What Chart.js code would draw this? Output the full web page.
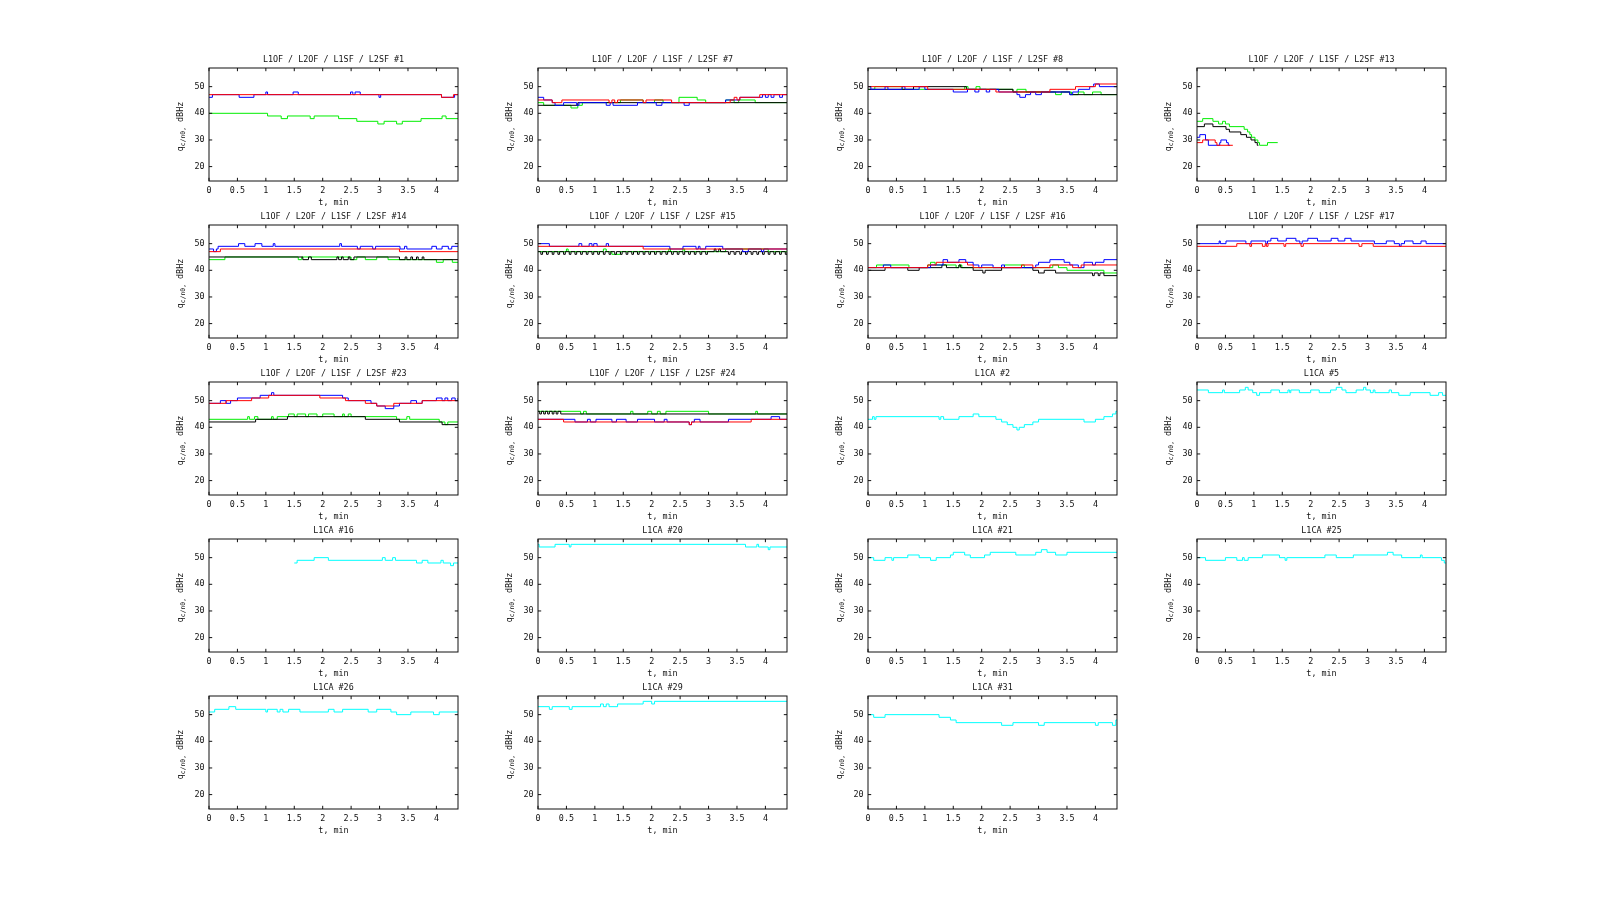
<!DOCTYPE html>
<html><head><meta charset="utf-8">
<script src="https://cdn.jsdelivr.net/npm/chart.js@4.4.0/dist/chart.umd.min.js"></script>
<style>
html,body{margin:0;padding:0;background:#fff;width:1600px;height:908px;overflow:hidden;}
.cell{position:absolute;}
.cell canvas{display:block;}
</style></head><body>
<script>
// ---------- axes ----------
const xTicks = [0,0.5,1,1.5,2,2.5,3,3.5,4];
const xTickLabels = ['0','0.5','1','1.5','2','2.5','3','3.5','4'];
const yTicks = [20,30,40,50];
const yTickLabels = ['20','30','40','50'];
const xMin = 0, xMax = 4.38, yMin = 14.6, yMax = 57;
const xLabel = 't, min';

// ---------- data: [t (min), q (dBHz)] change points ----------
// #1
const s1_L1OF = [[0,47],[4.09,46],[4.3,47],[4.4,47]];
const s1_L2OF = [[0,40],[1.03,39],[1.27,38],[1.38,39],[1.78,38],[1.85,39],[2.28,38],[2.6,37],[2.97,36],[3.08,37],[3.3,36],[3.4,37],[3.73,38],[4.1,39],[4.17,38],[4.4,38]];
const s1_L1SF = [[0,46],[0.06,47],[0.53,46],[0.79,47],[1.0,48],[1.03,47],[1.48,48],[1.57,47],[2.49,48],[2.53,47],[2.57,48],[2.66,47],[2.99,46],[3.02,47],[4.09,46],[4.32,47],[4.4,47]];
// #7
const s7_L1OF = [[0,45],[0.25,44],[0.42,45],[1.25,44],[1.3,45],[1.35,44],[1.4,45],[1.85,44],[1.9,45],[2.35,44],[3.38,45],[3.45,46],[3.5,45],[3.55,46],[3.9,47],[4.4,47]];
const s7_L2OF = [[0,44],[0.1,43],[0.58,42],[0.7,43],[0.78,44],[1.45,45],[1.85,44],[2.05,45],[2.2,44],[2.48,46],[2.8,45],[2.95,44],[3.3,45],[3.45,44],[3.53,45],[3.82,44],[4.4,44]];
const s7_L1SF = [[0,46],[0.1,45],[0.25,44],[0.3,43],[0.45,44],[0.68,43],[0.72,44],[1.2,43],[1.27,44],[1.32,43],[1.75,44],[2.08,43],[2.18,44],[2.57,43],[2.66,44],[3.3,45],[3.55,46],[3.95,47],[4.0,46],[4.05,47],[4.1,46],[4.15,47],[4.25,46],[4.3,47],[4.4,47]];
const s7_L2SF = [[0,43],[0.7,44],[4.4,44]];
// #8
const s8_L1OF = [[0,50],[1.05,49],[2.25,48],[3.2,49],[3.65,50],[4.0,51],[4.4,51]];
const s8_L2OF = [[0,49],[0.12,50],[0.6,49],[1.7,50],[1.76,49],[1.9,50],[1.97,49],[2.55,48],[2.62,49],[2.78,48],[3.3,47],[3.4,48],[3.58,47],[3.7,48],[3.8,47],[3.95,48],[4.1,47],[4.4,47]];
const s8_L1SF = [[0,50],[0.05,49],[0.3,50],[0.35,49],[0.6,50],[0.65,49],[0.9,50],[1.0,49],[1.5,48],[1.75,49],[1.88,48],[1.95,49],[2.08,48],[2.14,49],[2.3,48],[2.62,47],[2.67,46],[2.77,47],[2.86,48],[2.95,47],[3.05,48],[3.55,47],[3.6,48],[3.7,49],[3.9,50],[3.97,51],[4.07,50],[4.4,50]];
const s8_L2SF = [[0,49],[0.8,50],[1.73,49],[2.55,48],[3.55,47],[4.4,47]];
// #13
const s13_L1OF = [[0,29],[0.1,30],[0.32,29],[0.35,28],[0.63,28]];
const s13_L2OF = [[0,37],[0.1,38],[0.28,37],[0.38,36],[0.45,37],[0.5,36],[0.57,35],[0.83,34],[0.89,33],[0.93,32],[0.96,31],[1.02,30],[1.07,29],[1.1,28],[1.24,29],[1.42,29]];
const s13_L1SF = [[0,31],[0.05,32],[0.15,30],[0.2,28],[0.4,29],[0.42,30],[0.52,29],[0.55,28],[0.58,28]];
const s13_L2SF = [[0,35],[0.13,36],[0.28,35],[0.51,34],[0.57,33],[0.77,32],[0.87,31],[0.95,30],[1.02,29],[1.06,28],[1.08,28]];
// #14
const s14_L1OF = [[0,47],[0.2,48],[3.35,47],[4.4,47]];
const s14_L2OF = [[0,44],[0.28,45],[1.57,44],[1.63,45],[2.5,44],[2.6,45],[2.75,44],[2.95,45],[3.15,44],[4.0,43],[4.12,44],[4.28,43],[4.4,43]];
const s14_L1SF = [[0,48],[0.08,47],[0.13,48],[0.16,49],[0.52,50],[0.63,49],[0.81,50],[0.93,49],[1.13,50],[1.16,49],[2.3,50],[2.33,49],[2.61,48],[2.66,49],[2.88,48],[2.93,49],[3.36,48],[3.44,49],[3.48,48],[3.92,49],[4.0,48],[4.1,49],[4.21,48],[4.27,49],[4.4,49]];
const s14_L2SF = [[0,45],[1.65,44],[1.75,45],[1.8,44],[2.25,45],[2.28,44],[2.33,45],[2.36,44],[2.45,45],[2.48,44],[2.55,45],[3.35,44],[3.45,45],[3.48,44],[3.55,45],[3.58,44],[3.65,45],[3.68,44],[3.75,45],[3.78,44],[4.4,44]];
// #15
const s15_L1OF = [[0,49],[1.85,48],[4.4,48]];
const s15_L2OF = [[0,47],[0.5,48],[0.53,47],[1.15,48],[1.2,47],[1.3,46],[1.45,47],[2.3,48],[2.33,47],[2.55,48],[2.58,47],[3.3,48],[4.05,47],[4.4,47]];
const s15_L1SF = [[0,50],[0.2,49],[0.72,50],[0.77,49],[0.9,50],[0.95,49],[0.98,50],[1.04,49],[1.2,50],[1.24,49],[2.32,48],[2.55,49],[2.78,48],[2.82,49],[2.85,48],[2.95,49],[3.25,48],[3.6,47],[3.7,48],[3.93,47],[3.97,48],[4.4,48]];
const s15_L2SF = [[0,47],[0.05,46],[0.08,47],[0.15,46],[0.18,47],[0.25,46],[0.28,47],[0.35,46],[0.38,47],[0.45,46],[0.48,47],[0.55,46],[0.58,47],[0.65,46],[0.68,47],[0.75,46],[0.78,47],[0.85,46],[0.88,47],[0.95,46],[0.98,47],[1.05,46],[1.08,47],[1.15,46],[1.18,47],[1.25,46],[1.28,47],[1.35,46],[1.38,47],[1.45,46],[1.48,47],[1.55,46],[1.58,47],[1.65,46],[1.68,47],[1.75,46],[1.78,47],[1.85,46],[1.88,47],[1.95,46],[1.98,47],[2.05,46],[2.08,47],[2.15,46],[2.18,47],[2.25,46],[2.28,47],[2.35,46],[2.38,47],[2.45,46],[2.48,47],[2.55,46],[2.58,47],[2.65,46],[2.68,47],[2.75,46],[2.78,47],[2.85,46],[2.88,47],[2.95,46],[2.98,47],[3.1,48],[3.13,47],[3.18,48],[3.21,47],[3.35,46],[3.38,47],[3.45,46],[3.48,47],[3.55,46],[3.58,47],[3.65,46],[3.68,47],[3.75,46],[3.78,47],[3.85,46],[3.88,47],[3.95,46],[3.98,47],[4.05,46],[4.08,47],[4.15,46],[4.18,47],[4.25,46],[4.28,47],[4.35,46],[4.38,47],[4.4,47]];
// #16
const s16_L1OF = [[0,41],[1.05,42],[1.2,43],[1.75,42],[1.85,41],[2.7,42],[2.9,41],[3.2,42],[3.6,41],[3.75,42],[4.4,42]];
const s16_L2OF = [[0,41],[0.15,42],[0.72,41],[1.05,42],[1.1,43],[1.18,42],[1.55,41],[1.6,42],[1.65,41],[2.4,42],[2.75,41],[3.25,42],[3.35,41],[3.5,40],[4.15,39],[4.4,39]];
const s16_L1SF = [[0,41],[0.27,42],[0.4,41],[1.1,42],[1.32,44],[1.4,43],[1.6,44],[1.72,43],[1.85,42],[1.95,41],[2.0,42],[2.2,41],[2.35,42],[2.4,41],[2.95,42],[3.0,43],[3.2,44],[3.45,43],[3.55,42],[3.7,41],[3.8,43],[3.95,42],[4.0,43],[4.15,44],[4.4,44]];
const s16_L2SF = [[0,40],[0.3,41],[0.7,40],[0.9,41],[1.3,42],[1.38,41],[1.6,42],[1.63,41],[1.85,40],[2.02,39],[2.06,40],[2.35,41],[2.9,40],[3.0,39],[3.1,40],[3.3,39],[3.95,38],[3.98,39],[4.05,38],[4.08,39],[4.15,38],[4.4,38]];
// #17
const s17_L1OF = [[0,49],[0.7,50],[0.93,49],[0.96,50],[1.15,49],[1.2,50],[1.22,49],[1.25,50],[1.53,49],[1.56,50],[1.83,49],[1.87,50],[2.85,49],[2.9,50],[3.1,49],[4.4,49]];
const s17_L1SF = [[0,50],[0.39,51],[0.41,50],[0.51,51],[0.86,50],[0.95,51],[1.21,50],[1.24,51],[1.3,52],[1.42,51],[1.57,52],[1.74,51],[1.81,50],[1.85,51],[1.95,52],[2.12,51],[2.36,52],[2.48,51],[2.6,52],[2.71,51],[3.12,50],[3.33,51],[3.47,50],[3.56,49],[3.59,50],[3.65,51],[3.8,50],[3.94,51],[4.03,50],[4.4,50]];
// #23
const s23_L1OF = [[0,49],[0.3,50],[0.75,51],[1.05,52],[1.95,51],[2.4,50],[2.75,49],[2.95,48],[3.25,49],[3.75,50],[4.4,50]];
const s23_L2OF = [[0,43],[0.68,44],[0.71,43],[0.8,44],[0.86,43],[1.1,44],[1.13,43],[1.2,44],[1.4,45],[1.5,44],[1.55,45],[1.7,44],[1.75,45],[1.9,44],[2.0,45],[2.2,44],[2.35,45],[2.38,44],[2.45,45],[2.5,44],[3.3,43],[3.48,44],[3.53,43],[4.05,42],[4.15,41],[4.2,42],[4.4,42]];
const s23_L1SF = [[0,49],[0.2,50],[0.3,49],[0.38,50],[0.5,51],[0.9,52],[1.1,53],[1.14,52],[2.35,51],[2.45,50],[2.85,49],[2.95,48],[3.1,47],[3.25,48],[3.35,49],[3.55,50],[3.65,49],[3.75,50],[4.0,51],[4.1,50],[4.15,51],[4.2,50],[4.27,51],[4.33,50],[4.38,51],[4.4,51]];
const s23_L2SF = [[0,42],[0.82,43],[1.38,44],[2.75,43],[3.35,42],[4.1,41],[4.4,41]];
// #24
const s24_L1OF = [[0,43],[0.45,42],[2.66,41],[2.7,42],[3.75,43],[4.4,43]];
const s24_L2OF = [[0,46],[0.75,45],[0.8,46],[0.85,45],[1.63,46],[1.67,45],[1.93,46],[2.0,45],[2.1,46],[2.15,45],[2.25,46],[3.0,45],[3.83,46],[3.86,45],[4.4,45]];
const s24_L1SF = [[0,43],[0.65,42],[0.87,43],[0.92,42],[1.02,43],[1.3,42],[1.38,43],[1.55,42],[1.75,43],[2.05,42],[2.22,43],[2.27,42],[2.66,41],[2.7,42],[2.75,43],[2.85,42],[3.35,43],[4.1,44],[4.25,43],[4.4,43]];
const s24_L2SF = [[0,46],[0.03,45],[0.06,46],[0.1,45],[0.13,46],[0.17,45],[0.2,46],[0.25,45],[0.28,46],[0.32,45],[0.35,46],[0.4,45],[4.4,45]];
// L1CA
const ca2  = [[0,43],[0.08,44],[0.11,43],[0.14,44],[1.25,43],[1.28,44],[1.33,43],[1.6,44],[1.85,45],[1.95,44],[2.25,43],[2.35,42],[2.45,41],[2.55,40],[2.62,39],[2.66,40],[2.75,41],[2.9,42],[3.0,43],[3.8,42],[4.0,43],[4.15,44],[4.3,45],[4.36,46],[4.4,46]];
const ca5  = [[0,54],[0.2,53],[0.45,54],[0.48,53],[0.75,54],[0.85,55],[0.9,54],[0.98,53],[1.05,52],[1.1,53],[1.3,54],[1.45,53],[1.6,54],[1.63,53],[1.65,54],[1.8,53],[2.0,54],[2.15,53],[2.35,54],[2.45,55],[2.55,54],[2.62,53],[2.8,54],[2.93,55],[2.97,54],[3.05,53],[3.1,54],[3.13,53],[3.38,54],[3.42,53],[3.55,52],[3.75,53],[4.1,52],[4.25,53],[4.32,52],[4.4,52]];
const ca16 = [[1.5,48],[1.55,49],[1.85,50],[2.1,49],[3.05,50],[3.1,49],[3.23,50],[3.28,49],[3.65,48],[3.75,49],[3.85,48],[4.08,49],[4.12,48],[4.25,47],[4.3,48],[4.4,48]];
const ca20 = [[0,55],[0.02,54],[0.3,55],[0.55,54],[0.58,55],[3.65,54],[3.85,55],[3.88,54],[4.05,53],[4.08,54],[4.4,54]];
const ca21 = [[0,50],[0.1,49],[0.3,50],[0.42,49],[0.45,50],[0.7,51],[0.9,50],[1.1,49],[1.2,50],[1.45,51],[1.5,52],[1.7,51],[1.8,50],[2.05,51],[2.15,52],[2.6,51],[2.95,52],[3.05,53],[3.15,52],[3.3,51],[3.5,52],[4.4,52]];
const ca25 = [[0,50],[0.15,49],[0.5,50],[0.7,49],[0.8,50],[0.83,49],[0.9,50],[1.15,51],[1.45,50],[1.55,49],[1.58,50],[2.25,51],[2.45,50],[2.75,51],[3.35,52],[3.45,51],[3.6,50],[3.93,51],[3.96,50],[4.3,49],[4.35,48],[4.4,48]];
const ca26 = [[0,51],[0.1,52],[0.35,53],[0.47,52],[1.0,51],[1.03,52],[1.2,51],[1.25,52],[1.3,51],[1.4,52],[1.6,51],[2.1,52],[2.2,51],[2.35,52],[2.8,51],[2.95,52],[3.2,51],[3.3,50],[3.55,51],[3.95,50],[4.05,51],[4.4,51]];
const ca29 = [[0,53],[0.2,52],[0.25,53],[0.55,52],[0.6,53],[1.1,54],[1.15,53],[1.2,54],[1.25,53],[1.4,54],[1.85,55],[2.0,54],[2.05,55],[4.4,55]];
const ca31 = [[0,50],[0.1,49],[0.3,50],[1.25,49],[1.45,48],[1.55,47],[2.35,46],[2.55,47],[3.0,46],[3.1,47],[4.0,46],[4.05,47],[4.3,46],[4.36,48],[4.4,48]];

const plots = [
  {title:'L1OF / L2OF / L1SF / L2SF #1',  series:{L1OF:s1_L1OF, L2OF:s1_L2OF, L1SF:s1_L1SF}},
  {title:'L1OF / L2OF / L1SF / L2SF #7',  series:{L1OF:s7_L1OF, L2OF:s7_L2OF, L1SF:s7_L1SF, L2SF:s7_L2SF}},
  {title:'L1OF / L2OF / L1SF / L2SF #8',  series:{L1OF:s8_L1OF, L2OF:s8_L2OF, L1SF:s8_L1SF, L2SF:s8_L2SF}},
  {title:'L1OF / L2OF / L1SF / L2SF #13', series:{L1OF:s13_L1OF, L2OF:s13_L2OF, L1SF:s13_L1SF, L2SF:s13_L2SF}},
  {title:'L1OF / L2OF / L1SF / L2SF #14', series:{L1OF:s14_L1OF, L2OF:s14_L2OF, L1SF:s14_L1SF, L2SF:s14_L2SF}},
  {title:'L1OF / L2OF / L1SF / L2SF #15', series:{L1OF:s15_L1OF, L2OF:s15_L2OF, L1SF:s15_L1SF, L2SF:s15_L2SF}},
  {title:'L1OF / L2OF / L1SF / L2SF #16', series:{L1OF:s16_L1OF, L2OF:s16_L2OF, L1SF:s16_L1SF, L2SF:s16_L2SF}},
  {title:'L1OF / L2OF / L1SF / L2SF #17', series:{L1OF:s17_L1OF, L1SF:s17_L1SF}},
  {title:'L1OF / L2OF / L1SF / L2SF #23', series:{L1OF:s23_L1OF, L2OF:s23_L2OF, L1SF:s23_L1SF, L2SF:s23_L2SF}},
  {title:'L1OF / L2OF / L1SF / L2SF #24', series:{L1OF:s24_L1OF, L2OF:s24_L2OF, L1SF:s24_L1SF, L2SF:s24_L2SF}},
  {title:'L1CA #2',  series:{L1CA:ca2}},
  {title:'L1CA #5',  series:{L1CA:ca5}},
  {title:'L1CA #16', series:{L1CA:ca16}},
  {title:'L1CA #20', series:{L1CA:ca20}},
  {title:'L1CA #21', series:{L1CA:ca21}},
  {title:'L1CA #25', series:{L1CA:ca25}},
  {title:'L1CA #26', series:{L1CA:ca26}},
  {title:'L1CA #29', series:{L1CA:ca29}},
  {title:'L1CA #31', series:{L1CA:ca31}}
];

// ---------- styles / layout ----------
const COLORS = {L1OF:'#ff0000', L2OF:'#00ee00', L1SF:'#0000ff', L2SF:'#000000', L1CA:'#00ffff'};
const ORDER  = {L1OF:0, L1SF:1, L2SF:2, L2OF:3, L1CA:0};
const colLeft = [209, 538, 868, 1197];
const rowTop  = [68, 225, 382, 539, 696];
const plotW = 249, plotH = 113;
const PAD = {left:52, top:20, right:8, bottom:32};
const FONT = '"DejaVu Sans Mono", "Liberation Mono", monospace';
const FS = 8.4, FS_SUB = 6.4, TXT = '#111', TL = 3.2;

const gnuFrame = {
  id:'gframe',
  afterDraw(chart, args, opts){
    const ctx = chart.ctx, ca = chart.chartArea;
    const xs = chart.scales.x, ys = chart.scales.y;
    ctx.save();
    ctx.strokeStyle = '#111'; ctx.lineWidth = 1;
    ctx.strokeRect(ca.left, ca.top, ca.right-ca.left, ca.bottom-ca.top);
    ctx.beginPath();
    xTicks.forEach(v => {
      const px = xs.getPixelForValue(v);
      ctx.moveTo(px, ca.bottom); ctx.lineTo(px, ca.bottom-TL);
      ctx.moveTo(px, ca.top); ctx.lineTo(px, ca.top+TL);
    });
    yTicks.forEach(v => {
      const py = ys.getPixelForValue(v);
      ctx.moveTo(ca.left, py); ctx.lineTo(ca.left+TL, py);
      ctx.moveTo(ca.right, py); ctx.lineTo(ca.right-TL, py);
    });
    ctx.stroke();
    ctx.fillStyle = TXT;
    ctx.font = FS + 'px ' + FONT;
    ctx.textBaseline = 'middle';
    // x tick labels
    ctx.textAlign = 'center';
    xTicks.forEach((v,i) => ctx.fillText(xTickLabels[i], xs.getPixelForValue(v), ca.bottom + 9.8));
    // x label
    ctx.fillText(xLabel, (ca.left+ca.right)/2, ca.bottom + 21.5);
    // title
    ctx.fillText(opts.title, (ca.left+ca.right)/2, ca.top - 8.3);
    // y tick labels
    ctx.textAlign = 'right';
    yTicks.forEach((v,i) => ctx.fillText(yTickLabels[i], ca.left - 4.5, ys.getPixelForValue(v)));
    // y label (rotated, with subscript)
    const parts = [['q',FS,0],['c/n0',FS_SUB,2.2],[',',FS_SUB,2.2],[' dBHz',FS,0]];
    let total = 0;
    parts.forEach(p => { ctx.font = p[1]+'px '+FONT; total += ctx.measureText(p[0]).width; });
    ctx.translate(ca.left - 29.5, (ca.top+ca.bottom)/2 + 2);
    ctx.rotate(-Math.PI/2);
    ctx.textAlign = 'left'; ctx.textBaseline = 'alphabetic';
    let x = -total/2;
    parts.forEach(p => {
      ctx.font = p[1]+'px '+FONT;
      ctx.fillText(p[0], x, 3 + p[2]);
      x += ctx.measureText(p[0]).width;
    });
    ctx.restore();
  }
};

plots.forEach((p, i) => {
  const col = i % 4, row = Math.floor(i / 4);
  const div = document.createElement('div');
  div.className = 'cell';
  div.style.left = (colLeft[col] - PAD.left) + 'px';
  div.style.top = (rowTop[row] - PAD.top) + 'px';
  div.style.width = (plotW + PAD.left + PAD.right) + 'px';
  div.style.height = (plotH + PAD.top + PAD.bottom) + 'px';
  const cv = document.createElement('canvas');
  div.appendChild(cv);
  document.body.appendChild(div);
  const datasets = Object.keys(p.series).map(name => ({
    label: name,
    data: p.series[name].map(d => ({x:d[0], y:d[1]})),
    borderColor: COLORS[name],
    borderWidth: 1,
    pointRadius: 0,
    fill: false,
    stepped: true,
    tension: 0,
    order: ORDER[name]
  }));
  new Chart(cv, {
    type: 'line',
    data: {datasets},
    options: {
      responsive: true, maintainAspectRatio: false, animation: false, events: [],
      layout: {padding: PAD},
      plugins: {legend:{display:false}, tooltip:{enabled:false}, title:{display:false}, gframe:{title:p.title}},
      scales: {
        x: {type:'linear', min:xMin, max:xMax, display:false},
        y: {type:'linear', min:yMin, max:yMax, display:false}
      }
    },
    plugins: [gnuFrame]
  });
});
</script>
</body></html>
